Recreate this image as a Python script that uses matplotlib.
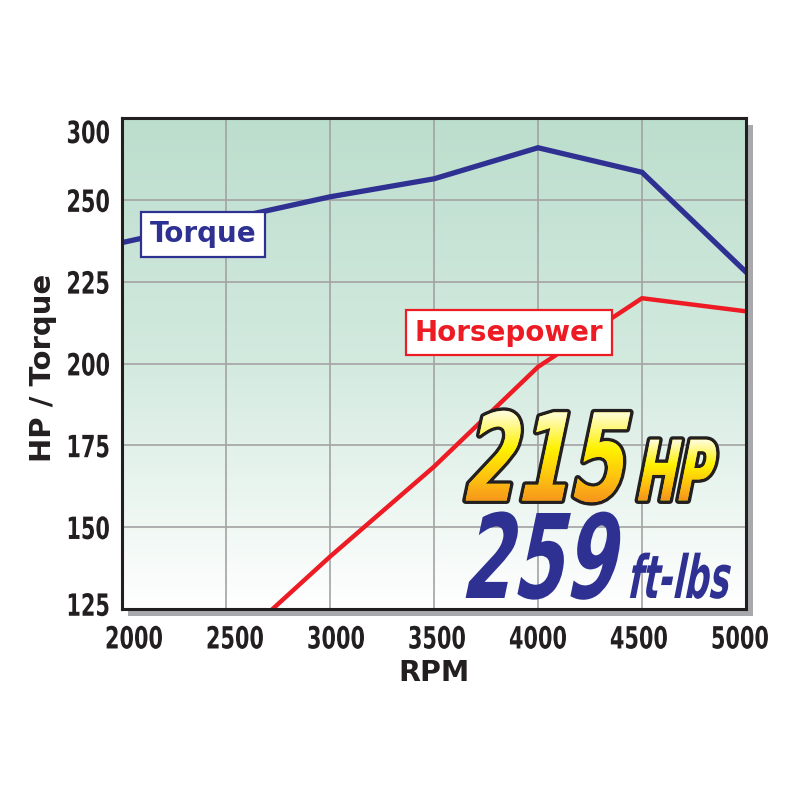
import numpy as np
import matplotlib
matplotlib.use("Agg")
import matplotlib.pyplot as plt
import matplotlib.transforms as mtrans
import matplotlib.patheffects as pe
from matplotlib.font_manager import FontProperties
from matplotlib.textpath import TextPath
from matplotlib.patches import PathPatch, Rectangle

# ---------------- data ----------------
rpm = [2000, 2500, 3000, 3500, 4000, 4500, 5000]
torque = [237, 244, 251, 256.5, 266, 258.5, 228]
hp_rpm = [2500, 3000, 3500, 4000, 4500, 5000]
hp_vals = [112, 141, 168.5, 199, 220, 216]
y_tick_pos = [125, 150, 175, 200, 225, 250, 275]
y_tick_labels = ["125", "150", "175", "200", "225", "250", "300"]
x_ticks = [2000, 2500, 3000, 3500, 4000, 4500, 5000]
peak_hp_text = "215"
peak_tq_text = "259"

BLUE = "#2e3192"
RED = "#ed1c24"
INK = "#231f20"


def _anchor(text):
    return text.get_transform().transform(text.get_position())


class Stretch(pe.AbstractPathEffect):
    """Draw text stretched vertically (condensed look) and optionally slanted,
    about the text's own anchor point."""

    def __init__(self, text, sy, shear=0.0, inner=None):
        super().__init__()
        self.text = text
        self.sy = sy
        self.shear = shear
        self.inner = inner if inner is not None else pe.Normal()

    def draw_path(self, renderer, gc, tpath, affine, rgbFace=None):
        x0, y0 = _anchor(self.text)
        st = (mtrans.Affine2D().translate(-x0, -y0).scale(1, self.sy)
              .skew_deg(self.shear, 0).translate(x0, y0))
        self.inner.draw_path(renderer, gc, tpath, affine + st, rgbFace)


def vgrad(stops, n=256):
    pos = np.array([s[0] for s in stops])
    cols = np.array([matplotlib.colors.to_rgb(s[1]) for s in stops])
    t = np.linspace(0, 1, n)
    arr = np.stack([np.interp(t, pos, cols[:, k]) for k in range(3)], axis=-1)
    return arr[:, None, :]


fig = plt.figure(figsize=(8, 8), dpi=100)
fig.patch.set_facecolor("white")

L, R, T, B = 122, 746, 118.3, 609
ax = fig.add_axes([L / 800, 1 - B / 800, (R - L) / 800, (B - T) / 800])

# drop shadow
fig.add_artist(Rectangle((128 / 800, 1 - 616 / 800), (753 - 128) / 800, (616 - 125) / 800,
                         transform=fig.transFigure, facecolor="#a7a9ac", edgecolor="none",
                         zorder=-1))

# background gradient
bg = vgrad([(0, "#bcdecd"), (0.5, "#d3eadf"), (1, "#ffffff")])
ax.imshow(bg, extent=[0, 1, 0, 1], transform=ax.transAxes, aspect="auto",
          zorder=-2, interpolation="bilinear")

ax.plot(rpm, torque, color=BLUE, lw=3.8, zorder=3, solid_joinstyle="miter")
ax.plot(hp_rpm, hp_vals, color=RED, lw=3.2, zorder=3, solid_joinstyle="miter")

ax.set_xlim(2000, 5000)
ax.set_ylim(125, 275)
ax.set_xticks(x_ticks)
ax.set_xticklabels([str(v) for v in x_ticks])
ax.set_yticks(y_tick_pos)
ax.set_yticklabels(y_tick_labels)
ax.set_axisbelow(True)
ax.grid(True, color="#a3a3a3", lw=1.2)
for s in ax.spines.values():
    s.set_linewidth(2.2)
    s.set_color(INK)
    s.set_zorder(4)

ax.tick_params(axis="both", length=0, colors=INK)
ax.tick_params(axis="x", pad=11.5)
ax.tick_params(axis="y", pad=8.6)
TICK_SY = 1.47
for lbl in ax.get_xticklabels() + ax.get_yticklabels():
    lbl.set_fontsize(15)
    lbl.set_fontweight("bold")
    lbl.set_path_effects([Stretch(lbl, TICK_SY)])

xoffs = [12, 9, 6, 3, 0, -3, -6]
for lbl, dx in zip(ax.get_xticklabels(), xoffs):
    lbl.set_transform(lbl.get_transform() + mtrans.ScaledTranslation(dx / 100, 0, fig.dpi_scale_trans))
yoffs = [5, 0, 0, 0, 0, 0, -13]
for lbl, dy in zip(ax.get_yticklabels(), yoffs):
    lbl.set_transform(lbl.get_transform() + mtrans.ScaledTranslation(0, dy / 100, fig.dpi_scale_trans))

ax.set_xlabel("RPM", fontsize=20.5, fontweight="bold", color=INK)
ax.xaxis.set_label_coords(0.5, -0.102)
ax.set_ylabel("HP / Torque", fontsize=21, fontweight="bold", color=INK)
ax.yaxis.set_label_coords(-0.1045, 0.492)

# series labels
ax.text(2390, 239.5, "Torque", fontsize=20, fontweight="bold", color=BLUE,
        ha="center", va="center", zorder=5,
        bbox=dict(boxstyle="square,pad=0.3", facecolor="white", edgecolor=BLUE, lw=1.6))
ax.text(3860, 209.5, "Horsepower", fontsize=20, fontweight="bold", color=RED,
        ha="center", va="center", zorder=5,
        bbox=dict(boxstyle="square,pad=0.3", facecolor="white", edgecolor=RED, lw=1.6))

# overlay for the big headline figures (pixel coordinates, y downwards)
ov = fig.add_axes([0, 0, 1, 1], zorder=5)
ov.axis("off")
ov.set_xlim(0, 800)
ov.set_ylim(800, 0)

gold = vgrad([(0, "#fffde6"), (0.42, "#fff200"), (0.75, "#fdc010"), (1, "#f7941d")])
SHEAR = 5


def big_text(x, y, s, size, sy, color, grad=None, stroke=None):
    fp = FontProperties(family="DejaVu Sans", weight="bold", style="italic", size=size)
    t = ov.text(x, y, s, fontproperties=fp, color=color, ha="left", va="baseline", zorder=5)
    effects = []
    if stroke:
        effects.append(Stretch(t, sy, SHEAR, pe.Stroke(linewidth=stroke, foreground=INK)))
    effects.append(Stretch(t, sy, SHEAR, pe.Normal()))
    t.set_path_effects(effects)
    if grad is not None:
        tp = TextPath((0, 0), s, size=size * 100 / 72, prop=fp)
        aff = mtrans.Affine2D().scale(1, -1).scale(1, sy).skew_deg(-SHEAR, 0).translate(x, y)
        ext = tp.transformed(aff).get_extents()
        patch = PathPatch(tp, transform=aff + ov.transData, facecolor="none", edgecolor="none")
        im = ov.imshow(grad, extent=(ext.x0, ext.x1, ext.y1, ext.y0),
                       aspect="auto", zorder=6, interpolation="bilinear")
        im.set_clip_path(patch)
    return t


big_text(465, 500.5, peak_hp_text, 55.7, 1.5625, "#ffe600", grad=gold, stroke=5)
big_text(637, 500.5, "HP", 34.8, 1.724, "#ffe600", grad=gold, stroke=5)
big_text(465, 598, peak_tq_text, 52.9, 1.587, BLUE)
big_text(628, 598, "ft-lbs", 24.5, 1.754, BLUE)

ov.set_xlim(0, 800)
ov.set_ylim(800, 0)

fig.savefig("out.png", dpi=100)
